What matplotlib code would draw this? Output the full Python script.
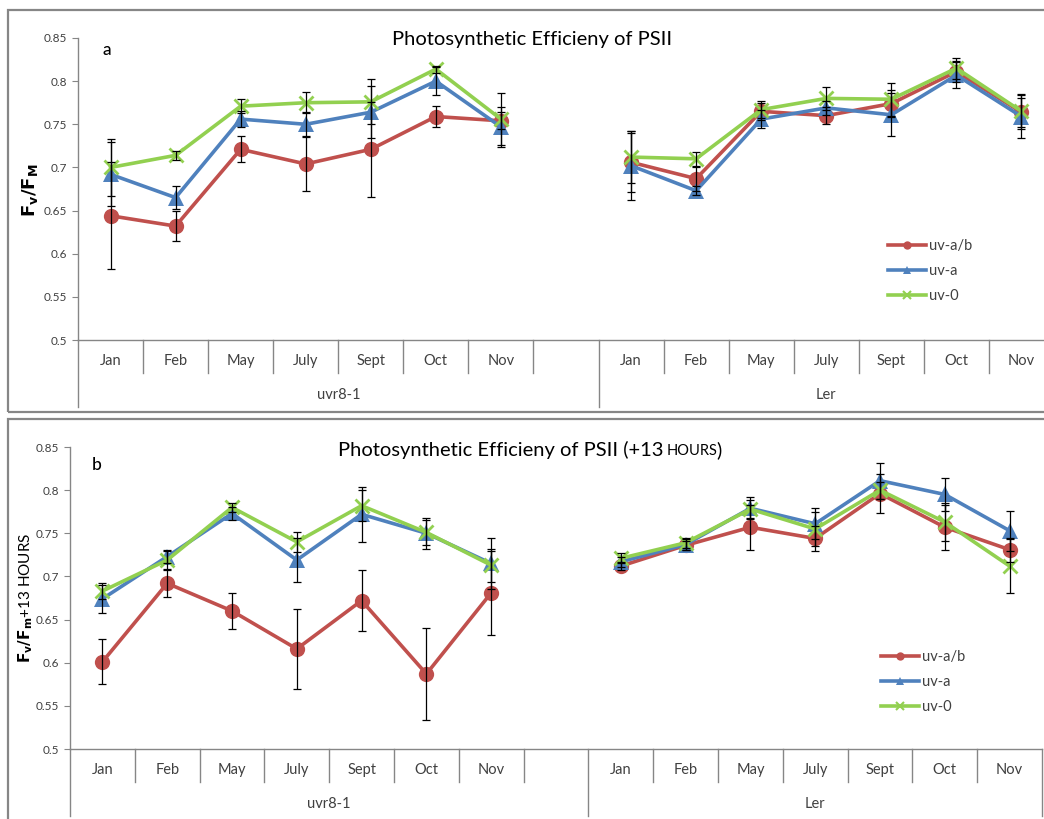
"""
Photosynthetic efficiency of PSII, two Excel-style panels with grouped category axis
"""
import matplotlib
matplotlib.use('Agg')
import matplotlib.pyplot as plt
from matplotlib.patches import Rectangle
from matplotlib.lines import Line2D

plt.rcParams['font.family'] = ['Lato', 'DejaVu Sans']
plt.rcParams['mathtext.fontset'] = 'dejavusans'

# ---- data -------------------------------------------------------------
months = ['Jan', 'Feb', 'May', 'July', 'Sept', 'Oct', 'Nov']
groups = ['uvr8-1', 'Ler']
series_names = ['uv-a/b', 'uv-a', 'uv-0']

# panel a  (Fv/FM)
a_uvr_ab = [0.644, 0.632, 0.721, 0.704, 0.721, 0.759, 0.754]
a_uvr_ab_err = [0.062, 0.017, 0.015, 0.031, 0.055, 0.012, 0.010]
a_uvr_a = [0.692, 0.665, 0.756, 0.750, 0.764, 0.800, 0.747]
a_uvr_a_err = [0.037, 0.013, 0.009, 0.014, 0.030, 0.016, 0.023]
a_uvr_0 = [0.700, 0.714, 0.771, 0.775, 0.776, 0.814, 0.756]
a_uvr_0_err = [0.033, 0.005, 0.008, 0.012, 0.026, 0.004, 0.030]

a_ler_ab = [0.706, 0.687, 0.765, 0.760, 0.774, 0.811, 0.764]
a_ler_ab_err = [0.034, 0.014, 0.010, 0.010, 0.016, 0.012, 0.017]
a_ler_a = [0.702, 0.673, 0.756, 0.769, 0.761, 0.807, 0.759]
a_ler_a_err = [0.040, 0.005, 0.010, 0.008, 0.025, 0.015, 0.025]
a_ler_0 = [0.712, 0.710, 0.767, 0.780, 0.779, 0.815, 0.765]
a_ler_0_err = [0.030, 0.008, 0.010, 0.013, 0.019, 0.012, 0.020]

# panel b  (Fv/Fm +13 hours)
b_uvr_ab = [0.601, 0.692, 0.660, 0.616, 0.672, 0.587, 0.681]
b_uvr_ab_err = [0.026, 0.016, 0.021, 0.046, 0.035, 0.053, 0.049]
b_uvr_a = [0.674, 0.723, 0.773, 0.719, 0.772, 0.750, 0.715]
b_uvr_a_err = [0.016, 0.008, 0.008, 0.025, 0.032, 0.018, 0.030]
b_uvr_0 = [0.683, 0.719, 0.780, 0.740, 0.782, 0.751, 0.713]
b_uvr_0_err = [0.009, 0.010, 0.005, 0.012, 0.018, 0.014, 0.019]

b_ler_ab = [0.712, 0.736, 0.757, 0.744, 0.796, 0.757, 0.731]
b_ler_ab_err = [0.005, 0.005, 0.026, 0.015, 0.023, 0.026, 0.014]
b_ler_a = [0.717, 0.737, 0.779, 0.761, 0.811, 0.795, 0.753]
b_ler_a_err = [0.006, 0.006, 0.013, 0.018, 0.021, 0.019, 0.023]
b_ler_0 = [0.721, 0.739, 0.778, 0.755, 0.800, 0.763, 0.712]
b_ler_0_err = [0.006, 0.006, 0.010, 0.020, 0.010, 0.022, 0.031]

yticks = [0.5, 0.55, 0.6, 0.65, 0.7, 0.75, 0.8, 0.85]

# ---- style ------------------------------------------------------------
COLORS = ['#C0504D', '#4F81BD', '#92D050']
MARKERS = ['o', '^', 'x']
MSIZE = [11, 11, 10]
AXIS_GRAY = '#868686'
W, H = 1044, 819


def fig_rect(x0, y0, x1, y1):
    """pixel box (top-left origin) -> figure fraction rect"""
    return [x0 / W, 1 - y1 / H, (x1 - x0) / W, (y1 - y0) / H]


def draw_panel(ax, uvr, ler):
    x_uvr = list(range(7))
    x_ler = [i + 8 for i in range(7)]
    for k in range(3):
        for xs, (vals, errs) in ((x_uvr, uvr[k]), (x_ler, ler[k])):
            ax.plot(xs, vals, color=COLORS[k], lw=2.6, marker=MARKERS[k],
                    markersize=MSIZE[k], mew=2 if MARKERS[k] == 'x' else 0,
                    zorder=3 + k)
            ax.errorbar(xs, vals, yerr=errs, fmt='none', ecolor='black',
                        elinewidth=0.9, capsize=3, capthick=0.9, zorder=7)

    ax.set_xlim(-0.5, 14.5)
    ax.set_ylim(0.5, 0.85)
    ax.set_yticks(yticks)
    ax.set_yticklabels([f'{v:g}' for v in yticks], fontsize=8.5, color='#404040')
    ax.tick_params(axis='y', length=4, color=AXIS_GRAY, pad=4)
    ax.set_xticks([])
    for s in ('top', 'right'):
        ax.spines[s].set_visible(False)
    for s in ('left', 'bottom'):
        ax.spines[s].set_color(AXIS_GRAY)
        ax.spines[s].set_linewidth(1)

    # Excel style two level category axis
    tr = ax.get_xaxis_transform()
    short = -33 / 302
    long_ = -67 / 302
    for b in range(16):
        xb = b - 0.5
        bottom = long_ if b in (0, 8, 15) else short
        ax.add_line(Line2D([xb, xb], [0, bottom], transform=tr, color=AXIS_GRAY,
                           lw=1, clip_on=False))
    for i, m in enumerate(months):
        for off in (0, 8):
            ax.text(i + off, -21 / 302, m, transform=tr, ha='center', va='center',
                    fontsize=10.5, color='#404040')
    ax.text(3.5, -55 / 302, groups[0], transform=tr, ha='center', va='center',
            fontsize=10.5, color='#404040')
    ax.text(11, -55 / 302, groups[1], transform=tr, ha='center', va='center',
            fontsize=10.5, color='#404040')


fig = plt.figure(figsize=(W / 100, H / 100), dpi=100)

# chart borders
for y0, y1 in ((10, 412), (419, 830)):
    fig.add_artist(Rectangle((8 / W, 1 - y1 / H), (1060 - 8) / W, (y1 - y0) / H,
                             transform=fig.transFigure, fill=False,
                             edgecolor=AXIS_GRAY, lw=1.6))

ax1 = fig.add_axes(fig_rect(78, 38, 1054, 340))
draw_panel(ax1,
           [(a_uvr_ab, a_uvr_ab_err), (a_uvr_a, a_uvr_a_err), (a_uvr_0, a_uvr_0_err)],
           [(a_ler_ab, a_ler_ab_err), (a_ler_a, a_ler_a_err), (a_ler_0, a_ler_0_err)])

ax2 = fig.add_axes(fig_rect(70, 447, 1042, 749))
draw_panel(ax2,
           [(b_uvr_ab, b_uvr_ab_err), (b_uvr_a, b_uvr_a_err), (b_uvr_0, b_uvr_0_err)],
           [(b_ler_ab, b_ler_ab_err), (b_ler_a, b_ler_a_err), (b_ler_0, b_ler_0_err)])

# titles
fig.text(532 / W, 1 - 40 / H, 'Photosynthetic Efficieny of PSII', ha='center',
         va='center', fontsize=14.5)
fig.text(664 / W, 1 - 450 / H, 'Photosynthetic Efficieny of PSII (+13', ha='right',
         va='center', fontsize=14.5)
fig.text(667 / W, 1 - 451 / H, 'HOURS', ha='left', va='center', fontsize=10.5)
fig.text(716 / W, 1 - 450 / H, ')', ha='left', va='center', fontsize=14.5)

# panel letters
fig.text(107 / W, 1 - 50 / H, 'a', ha='center', va='center', fontsize=12.5,
         fontweight='medium')
fig.text(97 / W, 1 - 465 / H, 'b', ha='center', va='center', fontsize=12.5,
         fontweight='medium')

# y labels
fig.text(30 / W, 1 - 190 / H, r'$\mathbf{F_v/F_M}$', rotation=90, ha='center',
         va='center', fontsize=13)
fig.text(26 / W, 1 - 598 / H, r'$\mathbf{F_v/F_m}$+13 HOURS', rotation=90,
         ha='center', va='center', fontsize=11)

# legends
handles = [Line2D([], [], color=COLORS[k], lw=2.6, marker=MARKERS[k],
                  markersize=6, mew=1.5 if MARKERS[k] == 'x' else 0)
           for k in range(3)]
for ax, (lx, ly) in ((ax1, (875, 271)), (ax2, (868, 682))):
    ax.legend(handles, series_names, loc='center left',
              bbox_to_anchor=(lx / W, 1 - ly / H), bbox_transform=fig.transFigure,
              frameon=False, fontsize=10.5, handlelength=2.6, handletextpad=0.2,
              labelspacing=0.75, numpoints=1, labelcolor='#404040')

fig.savefig('out.png', dpi=100)
